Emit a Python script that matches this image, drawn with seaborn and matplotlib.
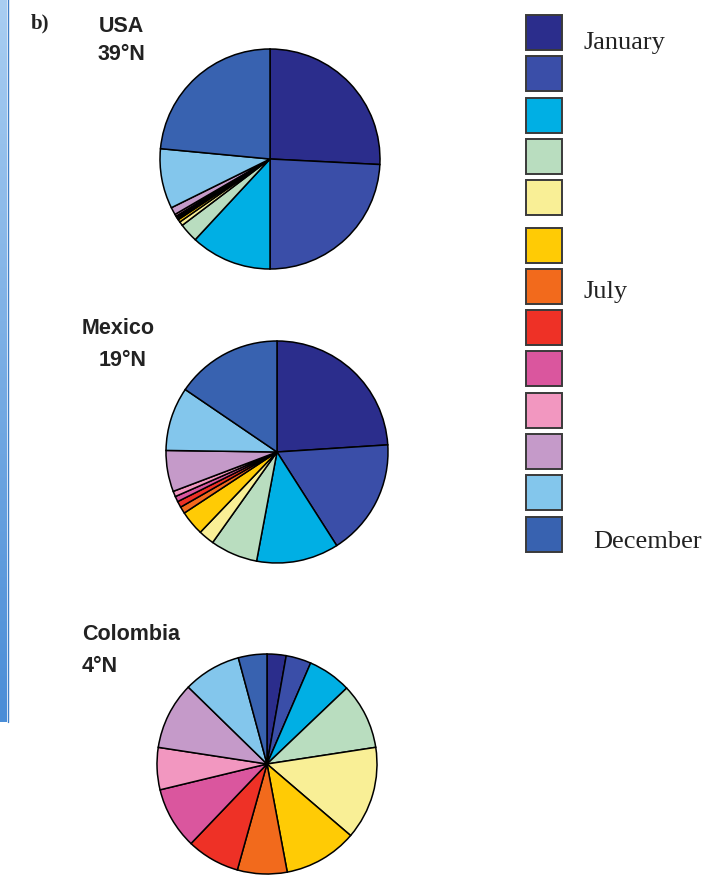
import numpy as np
import matplotlib
matplotlib.use("Agg")
import matplotlib.pyplot as plt
from matplotlib.patches import Rectangle
from matplotlib.colors import LinearSegmentedColormap
import seaborn as sns

# ---- data ----
months = ["January", "February", "March", "April", "May", "June", "July",
          "August", "September", "October", "November", "December (a)", "December"]
month_colors = ["#2b2d8c", "#3a4ea8", "#00afe4", "#b9ddbf", "#f9ef96", "#ffcb05",
                "#f26a1c", "#ee3126", "#da569e", "#f297c0", "#c59ac9", "#83c6ec", "#3862b0"]
legend_labels = ["January", "", "", "", "", "", "July", "", "", "", "", "", "December"]

usa = [25.8, 24.2, 11.9, 2.8, 0.6, 0.4, 0.2, 0.2, 0.2, 0.3, 1.1, 8.8, 23.5]
mexico = [24.0, 17.0, 12.0, 6.9, 2.3, 3.6, 1.0, 0.9, 0.8, 0.8, 6.0, 9.3, 15.5]
colombia = [2.8, 3.7, 6.4, 9.7, 13.7, 10.8, 7.3, 7.8, 9.1, 6.2, 9.9, 8.5, 4.2]

sites = ["USA", "Mexico", "Colombia"]
latitudes = ["39°N", "19°N", "4°N"]
site_values = [usa, mexico, colombia]

# ---- style ----
sns.set_theme(style="white")
plt.rcParams["font.family"] = ["Liberation Sans", "DejaVu Sans"]

W, H = 715, 878
fig = plt.figure(figsize=(W / 100, H / 100), dpi=100)
fig.patch.set_facecolor("white")

# pie placement (pixel centres / radii)
pie_geom = [(270, 160, 110), (277, 453, 111), (267, 765, 110)]
pad = 1.06
for vals, (cx, cy, r) in zip(site_values, pie_geom):
    ax = fig.add_axes([(cx - pad * r) / W, 1 - (cy + pad * r) / H,
                       2 * pad * r / W, 2 * pad * r / H])
    ax.pie(vals, colors=month_colors, startangle=90, counterclock=False,
           wedgeprops=dict(edgecolor="black", linewidth=1.1))
    ax.set_xlim(-pad, pad)
    ax.set_ylim(-pad, pad)
    ax.set_aspect("equal")
    ax.axis("off")

# overlay axes in pixel coordinates for labels, legend, frame bar
ov = fig.add_axes([0, 0, 1, 1], zorder=5)
ov.set_xlim(0, W)
ov.set_ylim(H, 0)
ov.axis("off")
ov.patch.set_alpha(0)

# left blue frame bar with gradient
cmap = LinearSegmentedColormap.from_list("bar", ["#a9cef2", "#4a8dd7"])
grad = np.linspace(0, 1, 256).reshape(-1, 1)
ov.imshow(grad, cmap=cmap, extent=(0, 7, 723, 0), aspect="auto", zorder=1)
ov.plot([7.5, 7.5], [0, 723], color="#3f7fc8", lw=1.0, zorder=2)
ov.set_xlim(0, W)
ov.set_ylim(H, 0)

ov.text(31, 23, "b)", fontsize=15, fontweight="bold", family=["Liberation Serif"],
        va="center", ha="left", color="#222222")

# site labels
label_pos = [((99, 26), (98, 54), "left"), ((82, 329), (123, 361), "center"),
             ((82, 635), (82, 667), "left")]
for name, lat, ((x1, y1), (x2, y2), ha2) in zip(sites, latitudes, label_pos):
    ov.text(x1, y1, name, fontsize=15.5, fontweight="bold", va="center", ha="left",
            color="#222222")
    ov.text(x2, y2, lat, fontsize=15.5, fontweight="bold", va="center", ha=ha2,
            color="#222222")

# legend squares
for i, (col, lab) in enumerate(zip(month_colors, legend_labels)):
    top = 16 + i * 41.3 + (6 if i >= 5 else 0)
    ov.add_patch(Rectangle((526, top), 36, 35, facecolor=col, edgecolor="#3a3a3a",
                           linewidth=1.4, zorder=3))
    if lab:
        xoff = 593 if lab == "December" else 583
        yoff = {"January": 33, "July": 28, "December": 30}[lab]
        ov.text(xoff, top + yoff, lab, fontsize=19, family=["Liberation Serif"],
                va="baseline", ha="left", color="#222222")

fig.savefig("out.png", dpi=100, facecolor="white")
